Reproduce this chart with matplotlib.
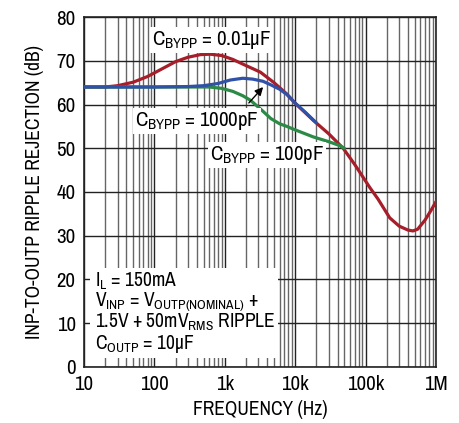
import matplotlib
matplotlib.use("Agg")
import matplotlib.pyplot as plt
from matplotlib.patches import Rectangle

plt.rcParams['font.family'] = ['Archivo Narrow', 'DejaVu Sans']
plt.rcParams['mathtext.default'] = 'regular'

# frequency (Hz) / rejection (dB)
freq_01uF = [10, 20, 30, 50, 80, 120, 200, 300, 450, 620, 900, 1300, 2000, 3200,
             5000, 7600, 10000, 18000, 30000, 48000, 70000, 115000, 150000, 220000,
             300000, 400000, 470000, 550000, 700000, 850000, 1000000]
rej_01uF = [64.0, 64.0, 64.3, 65.1, 66.4, 67.9, 69.8, 70.8, 71.4, 71.5, 71.2, 70.3, 68.9, 67.4,
            65.0, 62.4, 60.3, 56.4, 53.3, 50.0, 46.3, 41.0, 38.4, 34.1,
            32.2, 31.3, 31.1, 31.5, 33.6, 35.8, 37.8]

freq_1000pF = [10, 100, 300, 500, 800, 1200, 1800, 2500, 3500, 4500, 6000, 7600, 10000, 14000, 20000]
rej_1000pF = [64.0, 64.0, 64.1, 64.3, 64.8, 65.6, 66.0, 65.8, 65.3, 64.5, 63.5, 62.3, 60.3, 58.2, 55.8]

freq_100pF = [10, 100, 300, 600, 900, 1300, 1800, 2300, 3200, 4500, 6000, 7600, 10000,
              18000, 30000, 43000, 50000]
rej_100pF = [64.0, 64.0, 64.0, 64.0, 63.7, 63.0, 62.0, 61.0, 59.0, 56.8, 55.6, 55.0, 54.2,
             52.6, 51.5, 50.6, 50.0]

xticks = [10, 100, 1000, 10000, 100000, 1000000]
xtick_labels = ['10', '100', '1k', '10k', '100k', '1M']
yticks = list(range(0, 90, 10))

red = '#a51e2a'
blue = '#2f51a8'
green = '#2b8a46'

fig = plt.figure(figsize=(4.6, 4.23), dpi=100)
ax = fig.add_axes([0.1826, 0.1324, 0.7652, 0.8274])

ax.plot(freq_01uF, rej_01uF, color=red, lw=2.3, zorder=3, solid_capstyle='round')
ax.plot(freq_100pF, rej_100pF, color=green, lw=2.3, zorder=3, solid_capstyle='round')
ax.plot(freq_1000pF, rej_1000pF, color=blue, lw=2.3, zorder=4, solid_capstyle='round')

ax.set_xscale('log')
ax.set_xlim(10, 1e6)
ax.set_ylim(0, 80)
ax.set_xticks(xticks)
ax.set_xticklabels(xtick_labels)
ax.set_yticks(yticks)
ax.tick_params(axis='both', which='both', length=0, labelsize=15, pad=6)
ax.grid(True, which='major', color='#222222', lw=1.0)
ax.grid(True, which='minor', axis='x', color='#666666', lw=1.0)
for s in ax.spines.values():
    s.set_color('#222222')
    s.set_linewidth(1.2)

ax.set_xlabel('FREQUENCY (Hz)', fontsize=14, labelpad=4)
ax.set_ylabel('INP-TO-OUTP RIPPLE REJECTION (dB)', fontsize=14, labelpad=9)

wb = dict(facecolor='white', edgecolor='none', pad=1.5)


def lbl(px, py, s):
    # px, py: figure pixel position from the top-left corner
    fig.text(px / 460, 1 - py / 423, s, fontsize=15, ha='left', va='center',
             bbox=wb, zorder=5)


lbl(152, 40, 'C$_{BYPP}$ = 0.01µF')
lbl(135, 121, 'C$_{BYPP}$ = 1000pF')
lbl(210, 155, 'C$_{BYPP}$ = 100pF')

ax.annotate('', xy=(265 / 460, 1 - 85 / 423), xycoords='figure fraction',
            xytext=(247 / 460, 1 - 105 / 423), textcoords='figure fraction',
            arrowprops=dict(arrowstyle='-|>', color='black', lw=1.0, mutation_scale=12),
            zorder=6)

ax.add_patch(Rectangle((0.017, 0.026), 0.534, 0.257, transform=ax.transAxes,
                       facecolor='white', edgecolor='none', zorder=4))
cond = ['I$_L$ = 150mA',
        'V$_{INP}$ = V$_{OUTP(NOMINAL)}$ +',
        '1.5V + 50mV$_{RMS}$ RIPPLE',
        'C$_{OUTP}$ = 10µF']
cond_y = [0.245, 0.185, 0.128, 0.065]
for s, y in zip(cond, cond_y):
    ax.text(0.031, y, s, transform=ax.transAxes,
            fontsize=14, ha='left', va='center', zorder=5)

fig.savefig('out.png', dpi=100)
